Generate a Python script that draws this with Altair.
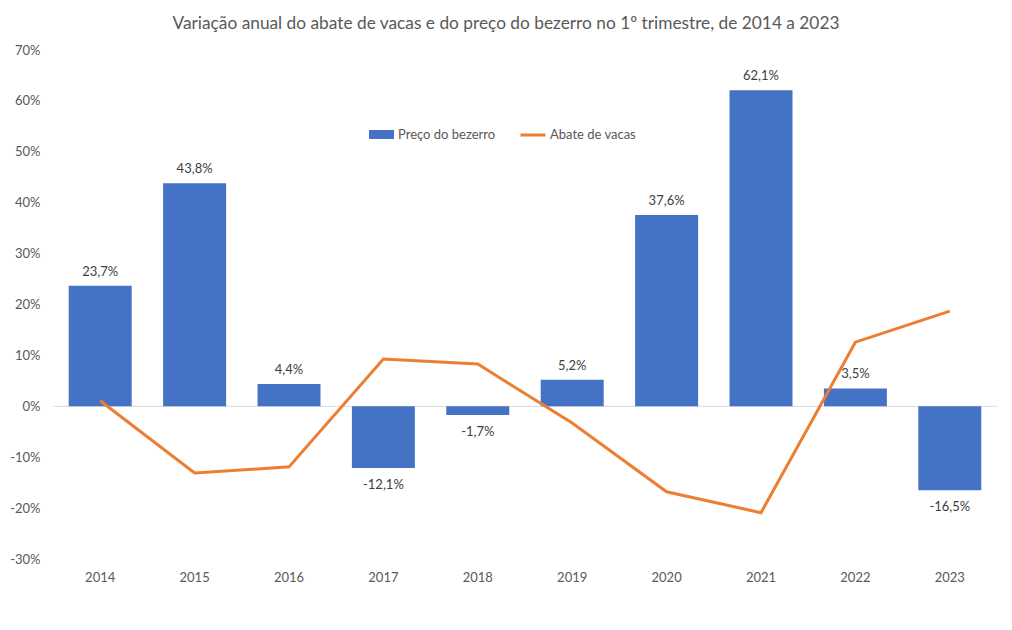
import altair as alt
import pandas as pd

# Annual change, 1st quarter
anos = ["2014", "2015", "2016", "2017", "2018", "2019", "2020", "2021", "2022", "2023"]
preco_bezerro = [0.237, 0.438, 0.044, -0.121, -0.017, 0.052, 0.376, 0.621, 0.035, -0.165]
abate_vacas = [0.011, -0.131, -0.119, 0.093, 0.083, -0.033, -0.168, -0.209, 0.126, 0.187]
y_ticks = [-0.3, -0.2, -0.1, 0.0, 0.1, 0.2, 0.3, 0.4, 0.5, 0.6, 0.7]

AZUL = "#4472C4"
LARANJA = "#ED7D31"
CINZA = "#595959"
FONTE = "Lato"


def rotulo(v):
    return f"{v * 100:.1f}".replace(".", ",") + "%"


df = pd.DataFrame({
    "ano": anos,
    "preco": preco_bezerro,
    "abate": abate_vacas,
    "rotulo": [rotulo(v) for v in preco_bezerro],
    "serie_barra": "Preço do bezerro",
    "serie_linha": "Abate de vacas",
})

x_enc = alt.X(
    "ano:N",
    sort=anos,
    title=None,
    scale=alt.Scale(paddingInner=0.33, paddingOuter=0.165),
    axis=alt.Axis(labelAngle=0, ticks=False, domain=False, labelPadding=12,
                  labelFontSize=13, labelColor=CINZA, labelFont=FONTE),
)
y_scale = alt.Scale(domain=[-0.3, 0.7], nice=False)

base = alt.Chart(df)

zero = alt.Chart(pd.DataFrame({"z": [0]})).mark_rule(color="#D9D9D9", strokeWidth=1).encode(
    y=alt.Y("z:Q", scale=y_scale)
)

barras = base.mark_bar(size=63).encode(
    x=x_enc,
    y=alt.Y(
        "preco:Q",
        scale=y_scale,
        title=None,
        axis=alt.Axis(values=y_ticks, labelExpr="round(datum.value * 100) + '%'",
                      grid=False, ticks=False, domain=False, labelPadding=13,
                      labelFontSize=13, labelColor=CINZA, labelFont=FONTE),
    ),
    color=alt.Color(
        "serie_barra:N",
        scale=alt.Scale(range=[AZUL]),
        legend=alt.Legend(orient="none", legendX=315, legendY=71, title=None,
                          symbolType="M-1,-0.36H1V0.36H-1Z", symbolSize=625,
                          symbolOpacity=1, labelFontSize=13, labelColor=CINZA,
                          labelFont=FONTE, labelOffset=3),
    ),
)

linha = base.mark_line(strokeWidth=3).encode(
    x=x_enc,
    y=alt.Y("abate:Q", scale=y_scale),
    stroke=alt.Stroke(
        "serie_linha:N",
        scale=alt.Scale(range=[LARANJA]),
        legend=alt.Legend(orient="none", legendX=466, legendY=71, title=None,
                          symbolType="stroke", symbolSize=625, symbolStrokeWidth=3,
                          labelFontSize=13, labelColor=CINZA, labelFont=FONTE,
                          labelOffset=3),
    ),
)

rot_pos = base.transform_filter("datum.preco >= 0").mark_text(
    dy=-14, fontSize=13, color="#404040", font=FONTE, baseline="middle"
).encode(x=x_enc, y=alt.Y("preco:Q", scale=y_scale), text="rotulo:N")

rot_neg = base.transform_filter("datum.preco < 0").mark_text(
    dy=17, fontSize=13, color="#404040", font=FONTE, baseline="middle"
).encode(x=x_enc, y=alt.Y("preco:Q", scale=y_scale), text="rotulo:N")

chart = alt.layer(zero, barras, linha, rot_pos, rot_neg).resolve_scale(
    color="independent", stroke="independent"
).properties(
    width=944,
    height=509,
    padding={"left": 53, "top": 50, "right": 15, "bottom": 71},
    autosize="none",
    background="white",
    title=alt.TitleParams(
        "Variação anual do abate de vacas e do preço do bezerro no 1º trimestre, de 2014 a 2023",
        fontSize=17.3, fontWeight="normal", color=CINZA, font=FONTE, offset=12, dx=-19,
    ),
).configure_view(strokeWidth=0, stroke="transparent")

chart.save("out.html", embed_options={"renderer": "svg", "actions": False})
